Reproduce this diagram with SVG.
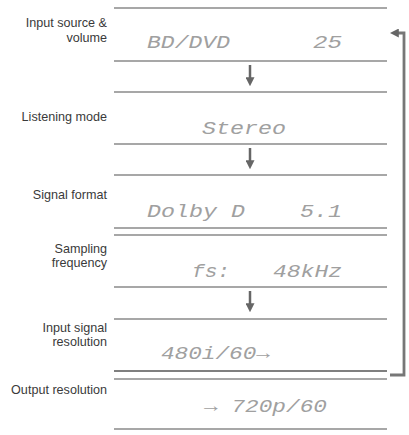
<svg xmlns="http://www.w3.org/2000/svg" width="409" height="435" viewBox="0 0 409 435">
<defs>
<style>
.rule{stroke:#8a8a8a;stroke-width:1.5;fill:none}
.lbl{font-family:"Liberation Sans",Arial,sans-serif;font-size:12.6px;fill:#3a3a3a;text-anchor:end}
.lcd{font-family:"Liberation Mono","DejaVu Sans Mono",monospace;font-size:19px;fill:#a0a0a0;font-style:italic}
.arr{stroke:#666;stroke-width:2.5;fill:none}
</style>
<marker id="ah" viewBox="0 0 10 10" refX="2" refY="5" markerWidth="9" markerHeight="9" orient="auto" markerUnits="userSpaceOnUse">
<path d="M0,0 L10,5 L0,10 z" fill="#666"/>
</marker>
</defs>
<rect width="409" height="435" fill="#fff"/>
<g id="connectors">
<line class="arr" x1="250" y1="65" x2="250" y2="79" marker-end="url(#ah)"/>
<line class="arr" x1="250" y1="148" x2="250" y2="162" marker-end="url(#ah)"/>
<line class="arr" x1="250" y1="291" x2="250" y2="305" marker-end="url(#ah)"/>
<path d="M390,375 H404 V33 H397" stroke="#777" stroke-width="2.8" fill="none" marker-end="url(#ah)"/>
</g>
<g id="rules">
<line class="rule" x1="114" y1="8" x2="387" y2="8"/>
<line class="rule" x1="114" y1="61" x2="387" y2="61"/>
<line class="rule" x1="114" y1="92" x2="387" y2="92"/>
<line class="rule" x1="114" y1="144" x2="387" y2="144"/>
<line class="rule" x1="114" y1="175" x2="387" y2="175"/>
<line class="rule" x1="114" y1="228" x2="387" y2="228"/>
<line class="rule" x1="114" y1="235" x2="387" y2="235"/>
<line class="rule" x1="114" y1="287" x2="387" y2="287"/>
<line class="rule" x1="114" y1="319" x2="387" y2="319"/>
<line class="rule" x1="114" y1="371" x2="387" y2="371" style="stroke:#555"/>
<line class="rule" x1="114" y1="379" x2="387" y2="379"/>
<line class="rule" x1="114" y1="429" x2="387" y2="429"/>
</g>
<g id="input-source">
<text class="lbl" x="107" y="27">Input source &amp;</text>
<text class="lbl" x="107" y="42">volume</text>
<text class="lcd" x="147" y="48" textLength="83" lengthAdjust="spacingAndGlyphs">BD/DVD</text>
<text class="lcd" x="313" y="48" textLength="29" lengthAdjust="spacingAndGlyphs">25</text>
</g>
<g id="listening-mode">
<text class="lbl" x="107" y="121">Listening mode</text>
<text class="lcd" x="202" y="134" textLength="84" lengthAdjust="spacingAndGlyphs">Stereo</text>
</g>
<g id="signal-format">
<text class="lbl" x="107" y="199">Signal format</text>
<text class="lcd" x="147" y="217" textLength="98" lengthAdjust="spacingAndGlyphs">Dolby D</text>
<text class="lcd" x="300" y="217" textLength="42" lengthAdjust="spacingAndGlyphs">5.1</text>
</g>
<g id="sampling-frequency">
<text class="lbl" x="107" y="253">Sampling</text>
<text class="lbl" x="107" y="267">frequency</text>
<text class="lcd" x="192" y="277" textLength="38" lengthAdjust="spacingAndGlyphs">fs:</text>
<text class="lcd" x="273" y="277" textLength="69" lengthAdjust="spacingAndGlyphs">48kHz</text>
</g>
<g id="input-signal-resolution">
<text class="lbl" x="107" y="332">Input signal</text>
<text class="lbl" x="107" y="346">resolution</text>
<text class="lcd" x="161" y="359" textLength="109" lengthAdjust="spacingAndGlyphs">480i/60→</text>
</g>
<g id="output-resolution">
<text class="lbl" x="107" y="394">Output resolution</text>
<text class="lcd" x="204" y="412" textLength="123" lengthAdjust="spacingAndGlyphs">→ 720p/60</text>
</g>
</svg>
